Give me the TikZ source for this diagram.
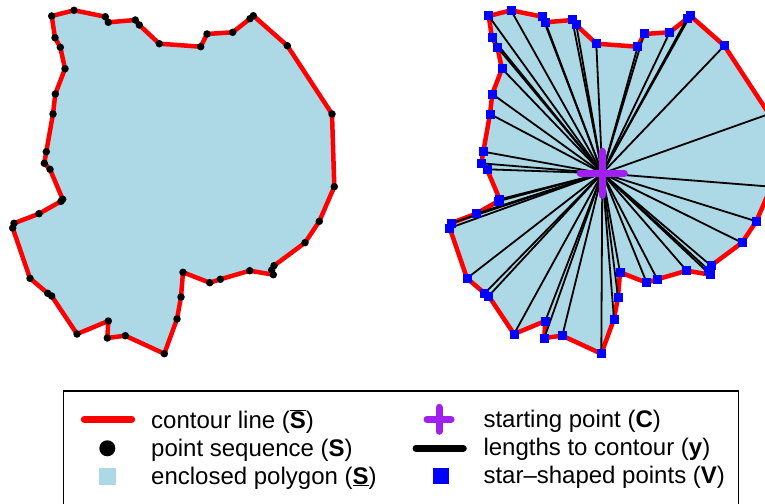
\documentclass[tikz,border=0pt]{standalone}
\usepackage{fontspec}
\setmainfont{Liberation Sans}
\usepackage{tikz}
\definecolor{lightblue}{HTML}{ADD8E6}
\definecolor{rpurple}{HTML}{A020F0}

\begin{document}
\begin{tikzpicture}[x=1pt,y=-1pt,
  contour/.style={red, line width=4.5pt, line join=round, line cap=round},
  seqdot/.style={circle, fill=black, inner sep=0pt, minimum size=7.5pt},
  starpt/.style={rectangle, fill=blue, inner sep=0pt, minimum size=9pt},
  ray/.style={black, line width=1.8pt},
  legtext/.style={anchor=base west, inner sep=0pt, font=\fontsize{24}{28}\selectfont}]
\useasboundingbox (0,0) rectangle (765,503);
% point sequence (left), shifted copy (right)
\foreach [count=\i] \x/\y in {51.7/16, 74/10.3, 105.3/16.7, 108.3/22.3, 135.3/20, 139.3/25,
  159.3/43.7, 200.7/46.7, 207/34, 232.7/32.3, 250/18.7, 253.3/15.7, 287.3/45.7, 332/114,
  334.3/186.7, 319.3/221.3, 305/242.7, 274/265.7, 271.7/270, 273.3/274.7, 249.7/270.7,
  220.3/279.3, 209.7/282.7, 183/272.3, 181/297, 177/319, 164.3/353.7, 125.3/335.7,
  107.3/338, 108.3/321, 77/334, 51.7/296, 47.7/293.3, 30/278.3, 12.7/228, 14/223.3,
  39/213.7, 61/201.3, 62.7/199.3, 50/169.3, 44.3/163.3, 46.3/151.7, 53/114, 55.3/94,
  65/68.7, 60.3/47.3, 55/37.7} {
  \coordinate (p\i) at (\x,\y);
  \coordinate (q\i) at (\x+437,\y);
}
\coordinate (C) at (602.3,173.3);

% left: polygon, contour, points
\fill [lightblue] (p1) \foreach \i in {2,...,47} {-- (p\i)} -- cycle;
\draw [contour] (p1) \foreach \i in {2,...,47} {-- (p\i)} -- cycle;
\foreach \i in {1,...,47} \node [seqdot] (s\i) at (p\i) {};

% right: polygon, contour, lengths, star-shaped points
\fill [lightblue] (q1) \foreach \i in {2,...,47} {-- (q\i)} -- cycle;
\draw [contour] (q1) \foreach \i in {2,...,47} {-- (q\i)} -- cycle;
\foreach \i in {1,...,47} \draw [ray] (C) -- (q\i);
\foreach \i in {1,...,47} \node [starpt] (v\i) at (q\i) {};
\draw [rpurple, line width=7pt, line cap=round] ([xshift=-22pt]C) -- ([xshift=22pt]C);
\draw [rpurple, line width=7pt, line cap=round] ([yshift=22pt]C) -- ([yshift=-22pt]C);

% legend
\draw [line width=1.5pt] (63.3,391) rectangle (738.3,520);
\coordinate (l1a) at (84.3,419.3);
\coordinate (l1b) at (131.7,419.3);
\draw [red, line width=7pt, line cap=round] (l1a) -- (l1b);
\node [circle, fill=black, inner sep=0pt, minimum size=16pt] (l2) at (107.3,448.3) {};
\node [rectangle, fill=lightblue, inner sep=0pt, minimum size=17pt] (l3) at (107.3,476.5) {};
\node [legtext] (t1) at (151,428) {contour line ($\overline{\mbox{\textbf{S}}}$)};
\node [legtext] (t2) at (151,456) {point sequence (\textbf{S})};
\node [legtext] (t3) at (151,484) {enclosed polygon (\underline{\textbf{S}})};
\coordinate (r1) at (439,419.3);
\draw [rpurple, line width=7pt, line cap=round] ([xshift=-12pt]r1) -- ([xshift=12pt]r1);
\draw [rpurple, line width=7pt, line cap=round] ([yshift=12pt]r1) -- ([yshift=-12pt]r1);
\coordinate (r2a) at (416,448.3);
\coordinate (r2b) at (463.3,448.3);
\draw [black, line width=7pt, line cap=round] (r2a) -- (r2b);
\node [rectangle, fill=blue, inner sep=0pt, minimum size=16pt] (r3) at (440.7,476.3) {};
\node [legtext] (u1) at (483.3,427.5) {starting point (\textbf{C})};
\node [legtext] (u2) at (483.3,455.5) {lengths to contour (\textbf{y})};
\node [legtext] (u3) at (483.3,483.5) {star\textendash shaped points (\textbf{V})};
\end{tikzpicture}
\end{document}
